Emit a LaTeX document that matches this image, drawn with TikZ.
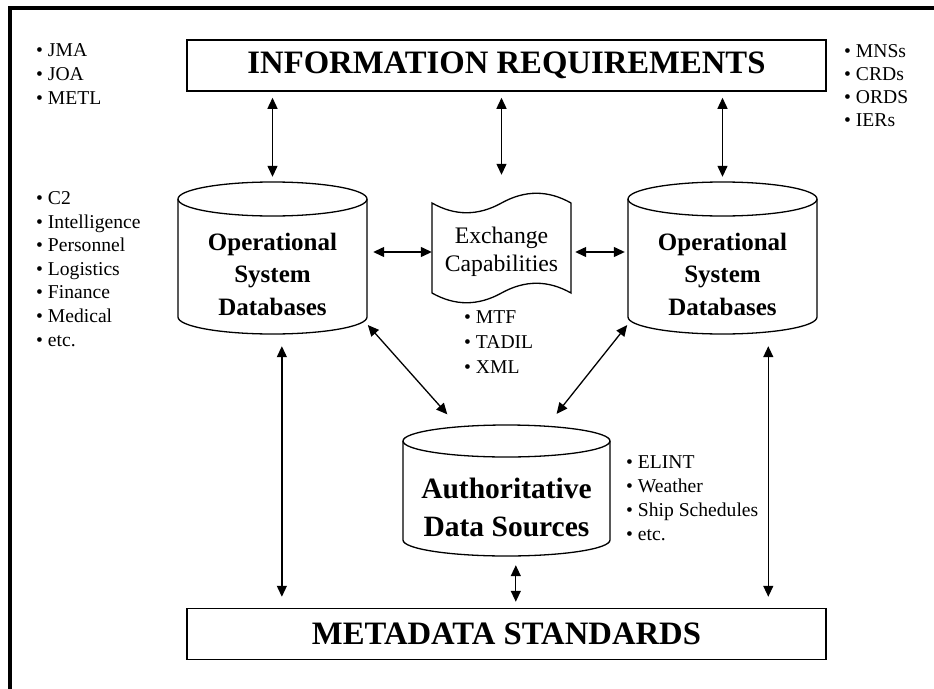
\documentclass[tikz,border=0pt]{standalone}
\usepackage{fontspec}
\setmainfont{Liberation Serif}
\usetikzlibrary{arrows.meta}

\tikzset{
  conn/.style={line width=1.3pt, {Triangle[length=11pt,width=10pt]}-{Triangle[length=11pt,width=10pt]}},
  titlebox/.style={draw, line width=1.5pt, minimum width=639pt, minimum height=51pt, inner sep=0pt, font=\bfseries\fontsize{32.7}{38}\selectfont},
  dbline/.style={line width=1.3pt},
  dbarea/.style={inner sep=0pt, minimum width=189pt, minimum height=152pt},
  dbtext/.style={align=center, inner sep=0pt, font=\bfseries\fontsize{25}{32.5}\selectfont},
  bullets/.style={anchor=west, inner sep=0pt, align=left},
}

\begin{document}
\begin{tikzpicture}[x=1pt,y=1pt,yscale=-1,xscale=1]
\useasboundingbox (0,0) rectangle (934,688);
\clip (0,0) rectangle (934,688);

% Outer frame
\draw[line width=3.3pt] (10,700) -- (10,8) -- (940,8);

% Title boxes
\node[titlebox] (irq) at (506.5,65.5) {INFORMATION REQUIREMENTS};
\node[titlebox] (mds) at (506.5,634) {METADATA STANDARDS};

% Databases
\draw[dbline] (178,199) -- (178,317) arc[start angle=180, end angle=0, x radius=94.5, y radius=17] -- (367,199);
\draw[dbline] (272.5,199) ellipse [x radius=94.5, y radius=17];
\draw[dbline] (628,199) -- (628,317) arc[start angle=180, end angle=0, x radius=94.5, y radius=17] -- (817,199);
\draw[dbline] (722.5,199) ellipse [x radius=94.5, y radius=17];
\draw[dbline] (403,441) -- (403,540) arc[start angle=180, end angle=0, x radius=103.5, y radius=16] -- (610,441);
\draw[dbline] (506.5,441) ellipse [x radius=103.5, y radius=16];
\node[dbarea] (osdL) at (272.5,258) {};
\node[dbarea] (osdR) at (722.5,258) {};
\node[dbarea, minimum width=207pt, minimum height=132pt] (ads) at (506.5,491) {};
\node[dbtext] (osdLtxt) at (272.5,274) {Operational\\System\\Databases};
\node[dbtext] (osdRtxt) at (722.5,274) {Operational\\System\\Databases};
\node[dbtext, font=\bfseries\fontsize{29.5}{38}\selectfont] (adstxt) at (506.5,507) {Authoritative\\Data Sources};

% Exchange Capabilities (tape)
\draw[dbline] (432,203) .. controls (455,216) and (478,216) .. (501.5,203) .. controls (525,190) and (548,190) .. (571,203) -- (571,293) .. controls (548,280) and (525,280) .. (501.5,293) .. controls (478,306) and (455,306) .. (432,293) -- cycle;
\node[align=center, inner sep=0pt, minimum width=139pt, minimum height=100pt, font=\fontsize{23.7}{28}\selectfont] (exch) at (501.5,252) {Exchange\\Capabilities};

% Bullet lists
\node[bullets, font=\fontsize{19.6}{24}\selectfont] (missions) at (36,74) {• JMA\\• JOA\\• METL};
\node[bullets, font=\fontsize{19.6}{23.6}\selectfont] (functions) at (36,269) {• C2\\• Intelligence\\• Personnel\\• Logistics\\• Finance\\• Medical\\• etc.};
\node[bullets, font=\fontsize{19.6}{23}\selectfont] (reqdocs) at (844,86) {• MNSs\\• CRDs\\• ORDS\\• IERs};
\node[bullets, font=\fontsize{19.6}{25}\selectfont] (formats) at (464,342) {• MTF\\• TADIL\\• XML};
\node[bullets, font=\fontsize{19.6}{24}\selectfont] (sources) at (626,498.5) {• ELINT\\• Weather\\• Ship Schedules\\• etc.};

% Connectors
\draw[conn, shorten <=6pt, shorten >=5pt] (irq.south -| osdL.north) -- (osdL.north);
\draw[conn, shorten <=6pt, shorten >=27pt] (irq.south -| exch.north) -- (exch.north);
\draw[conn, shorten <=6pt, shorten >=5pt] (irq.south -| osdR.north) -- (osdR.north);
\draw[conn, shorten <=6pt] (exch.west -| osdL.east) -- (exch.west);
\draw[conn, shorten <=4pt, shorten >=3pt] (exch.east) -- (exch.east -| osdR.west);
\draw[conn, shorten <=1pt, shorten >=14pt] (osdL.-35) -- (ads.127);
\draw[conn, shorten <=1pt, shorten >=14pt] (osdR.-145) -- (ads.58);
\draw[conn, shorten <=12pt, shorten >=11pt] (osdL.-83) -- (mds.north -| osdL.-83);
\draw[conn, shorten <=12pt, shorten >=11pt] (osdR.-59) -- (mds.north -| osdR.-59);
\draw[conn, shorten <=8pt, shorten >=6pt] (ads.-82) -- (mds.north -| ads.-82);

\end{tikzpicture}
\end{document}
